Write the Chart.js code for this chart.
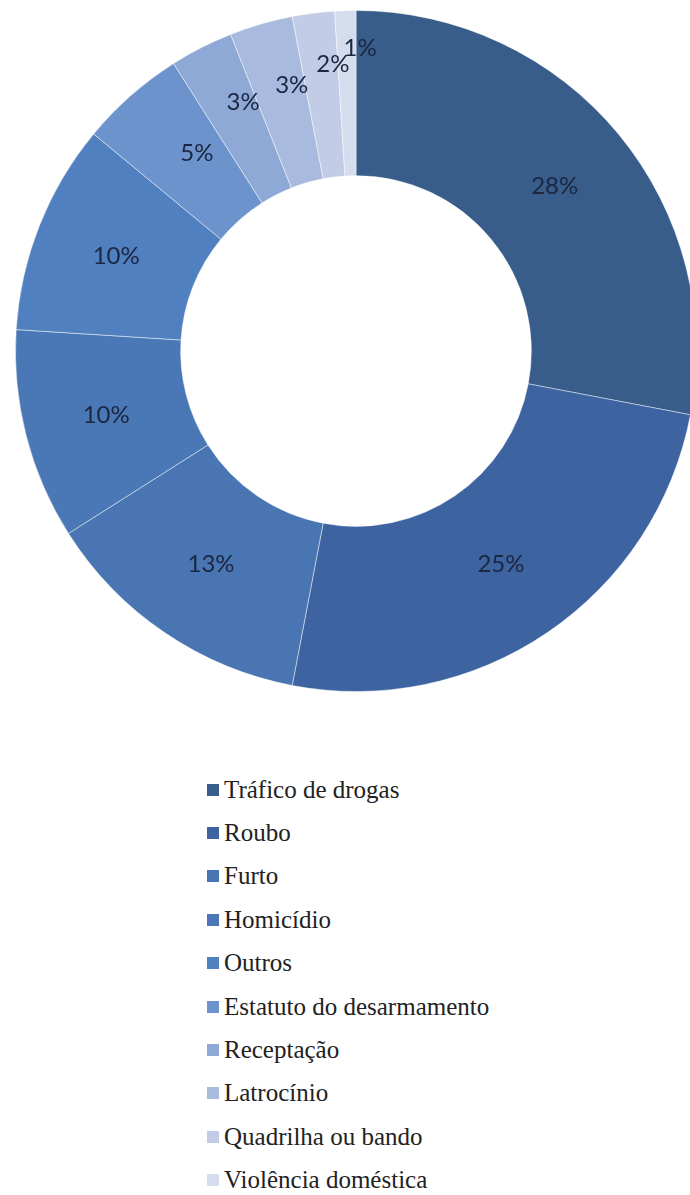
<!DOCTYPE html>
<html>
<head>
<meta charset="utf-8">
<script src="https://cdn.jsdelivr.net/npm/chart.js@4.4.0/dist/chart.umd.min.js"></script>
<style>
  html, body { margin: 0; padding: 0; background: #fff; overflow: hidden; width: 690px; height: 1195px; }
  #wrap { position: absolute; left: 0; top: 0; width: 712px; height: 702px; }
  #legend { position: absolute; left: 207px; top: 768px; font-family: "Liberation Serif", "Times New Roman", Times, "DejaVu Serif", serif; font-size: 25px; color: #222; }
  .row { height: 43.4px; display: flex; align-items: center; white-space: nowrap; }
  .box { width: 12px; height: 12px; margin-right: 5px; flex: none; }
</style>
</head>
<body>
<div id="wrap"><canvas id="chart" width="712" height="702"></canvas></div>
<div id="legend"></div>
<script>
const categories = ['Tráfico de drogas', 'Roubo', 'Furto', 'Homicídio', 'Outros',
  'Estatuto do desarmamento', 'Receptação', 'Latrocínio', 'Quadrilha ou bando', 'Violência doméstica'];
const shares = [28, 25, 13, 10, 10, 5, 3, 3, 2, 1];
const colors = ['#385d8a', '#3d63a0', '#4975b2', '#4a78b6', '#5080c0',
  '#6c93cc', '#8fa9d6', '#a9badf', '#c2cce6', '#d5dcee'];

// percentage labels inside the ring, small slices nudged outward like Excel's best fit
const sliceLabels = {
  id: 'sliceLabels',
  afterDatasetsDraw(chart) {
    const ctx = chart.ctx;
    const meta = chart.getDatasetMeta(0);
    ctx.save();
    ctx.font = '24px Lato, "Open Sans", sans-serif';
    ctx.fillStyle = '#1b2640';
    ctx.textAlign = 'center';
    ctx.textBaseline = 'middle';
    meta.data.forEach((arc, i) => {
      const p = arc.getProps(['x', 'y', 'startAngle', 'endAngle', 'innerRadius', 'outerRadius'], true);
      const v = shares[i];
      const push = v < 4 ? (4 - v) * 15 : (v < 6 ? -4 : 0);
      const shift = v < 6 ? 0.045 : 0;
      const a = (p.startAngle + p.endAngle) / 2 + shift;
      const r = (p.innerRadius + p.outerRadius) / 2 + push;
      ctx.fillText(v + '%', p.x + Math.cos(a) * r, p.y + Math.sin(a) * r);
    });
    ctx.restore();
  }
};

const chart = new Chart(document.getElementById('chart'), {
  type: 'doughnut',
  data: {
    labels: categories,
    datasets: [{
      data: shares,
      backgroundColor: colors,
      borderColor: 'rgba(255,255,255,0.45)',
      borderWidth: 1
    }]
  },
  options: {
    responsive: false,
    animation: false,
    cutout: '51.5%',
    layout: { padding: 10 },
    plugins: {
      legend: { display: false },
      tooltip: { enabled: false }
    }
  },
  plugins: [sliceLabels]
});

const legend = document.getElementById('legend');
chart.data.labels.forEach((label, i) => {
  const row = document.createElement('div');
  row.className = 'row';
  const box = document.createElement('span');
  box.className = 'box';
  box.style.background = chart.data.datasets[0].backgroundColor[i];
  const txt = document.createElement('span');
  txt.textContent = label;
  row.appendChild(box);
  row.appendChild(txt);
  legend.appendChild(row);
});
</script>
</body>
</html>
